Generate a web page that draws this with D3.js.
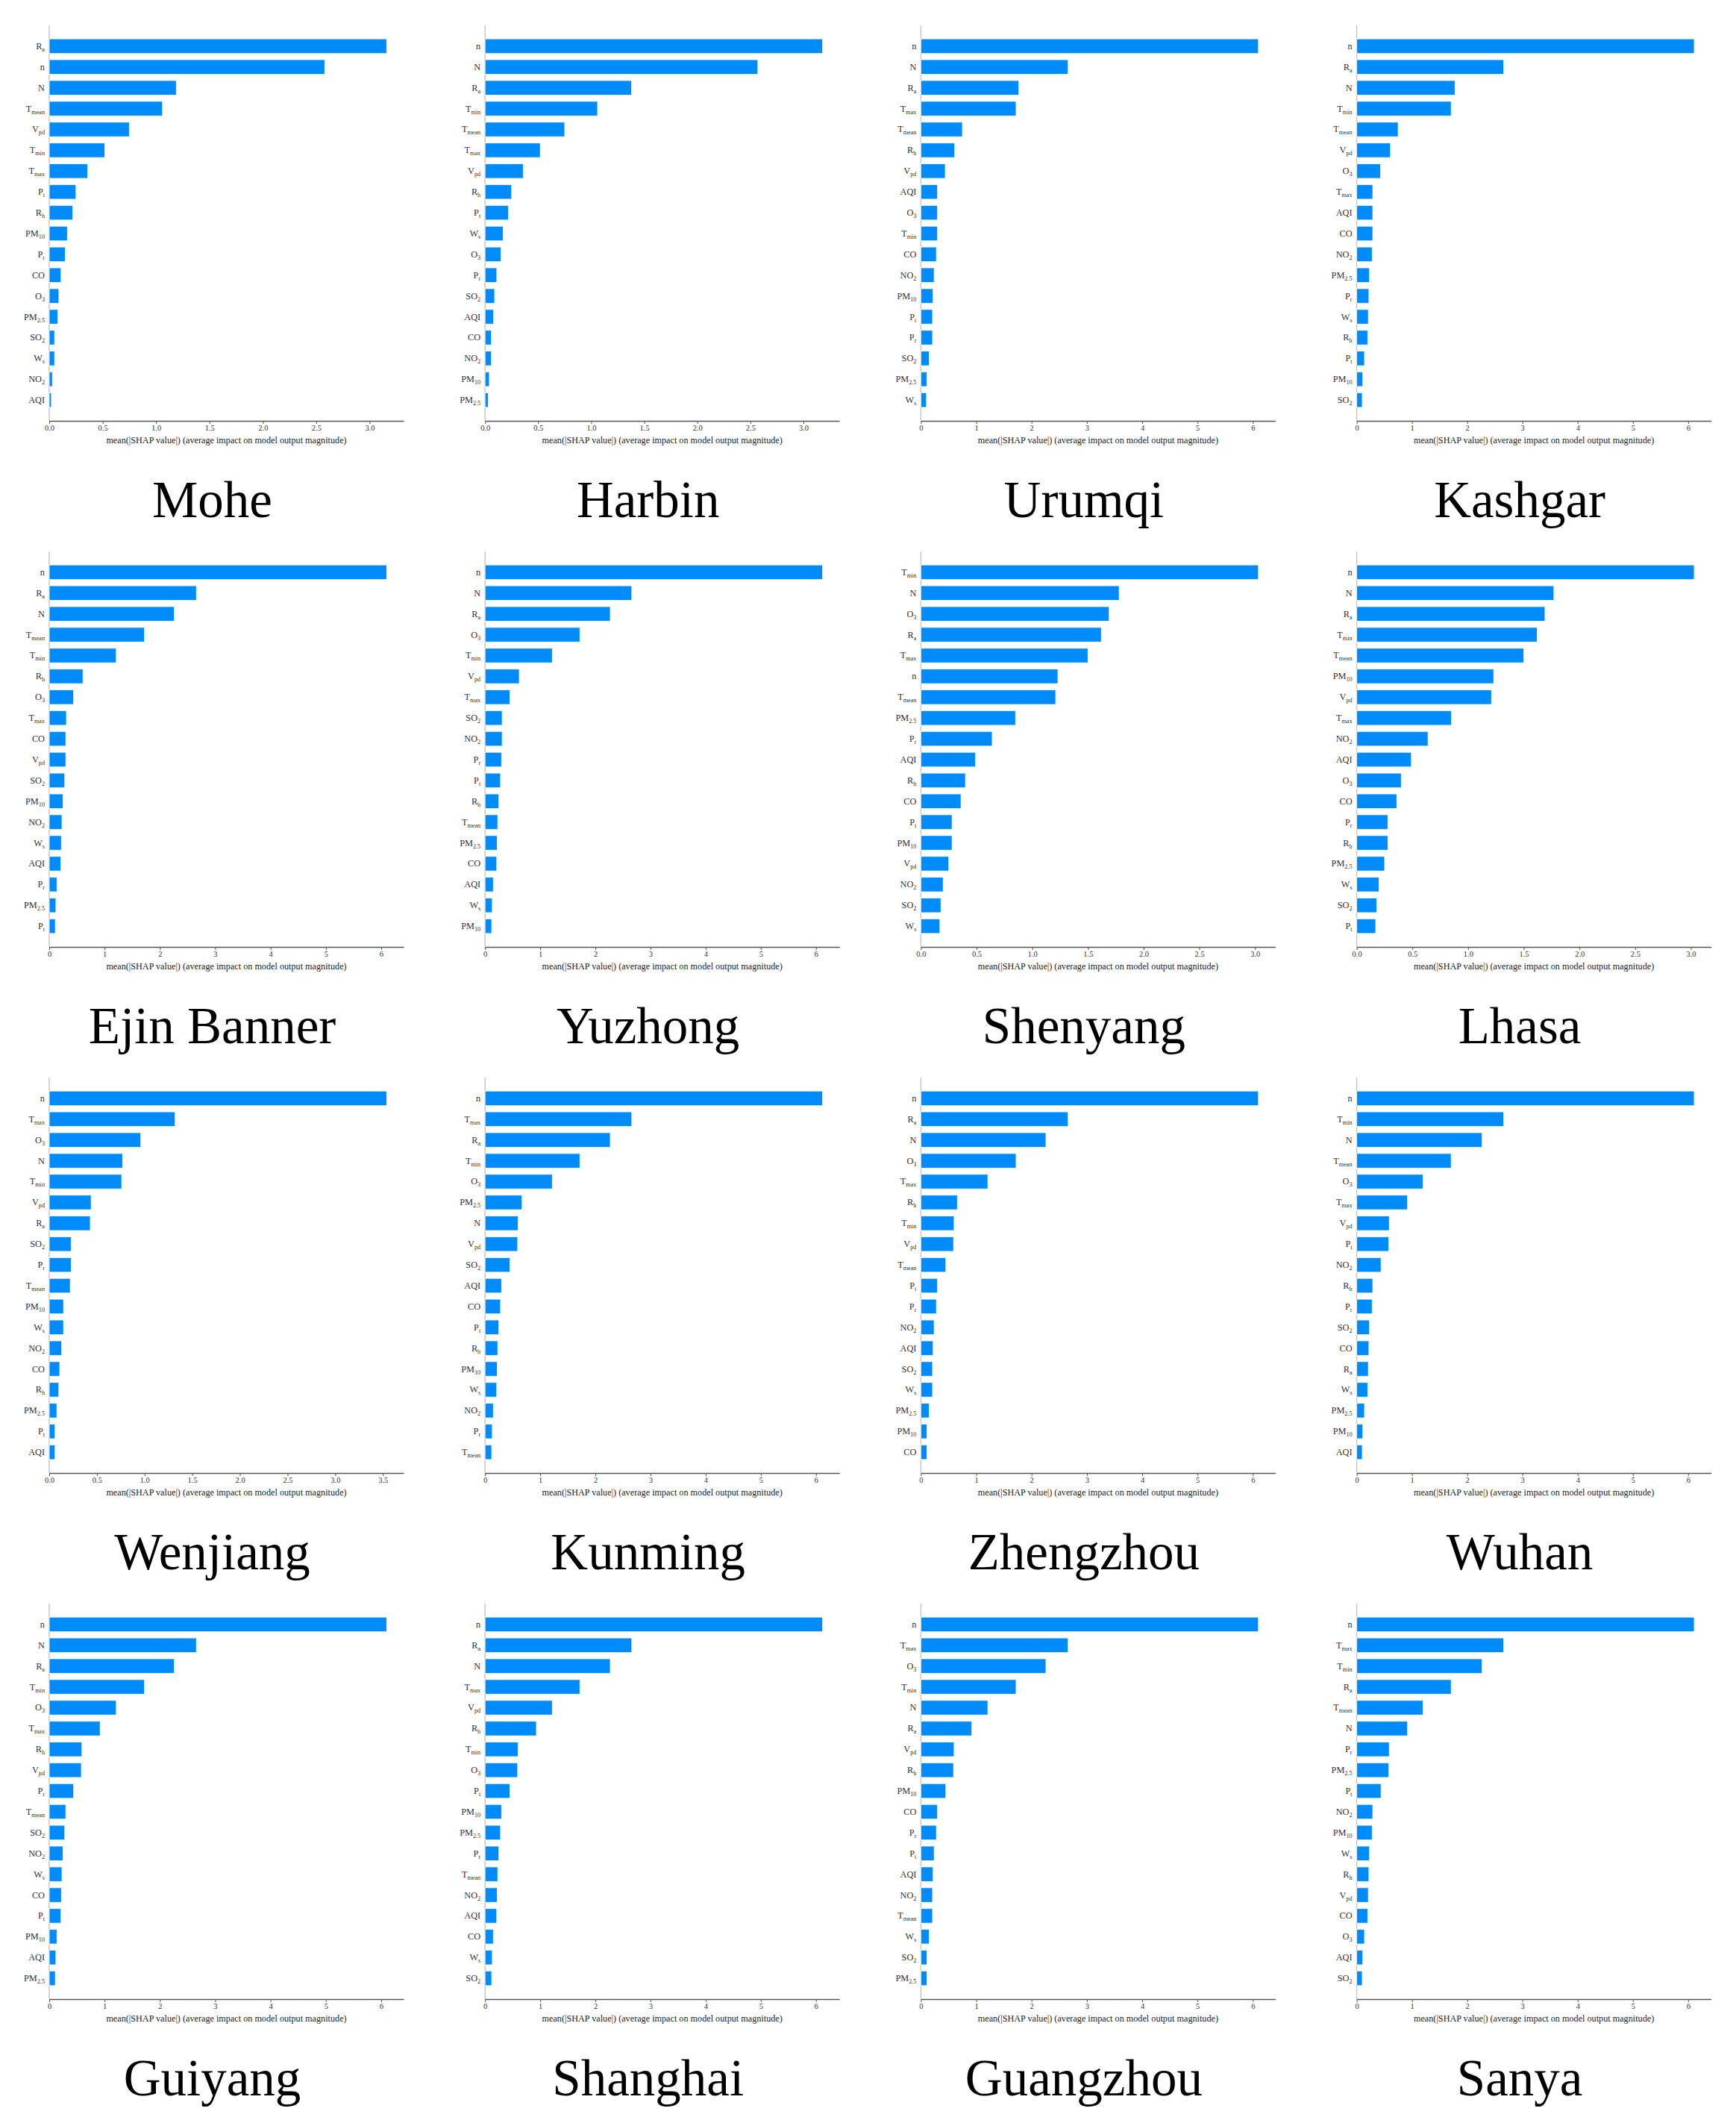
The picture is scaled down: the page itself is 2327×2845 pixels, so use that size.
<!DOCTYPE html>
<html>
<head>
<meta charset="utf-8">
<title>mean(|SHAP value|) by city</title>
<script src="https://d3js.org/d3.v7.min.js"></script>
<style>
  body { margin: 0; background: #fff; }
  text { font-family: "Liberation Serif", "Times New Roman", serif; }
</style>
</head>
<body>
<svg id="chart" width="2327" height="2845"></svg>
<script>
// one pair of arrays per city: feature order (top to bottom) and mean |SHAP|
const moheF = ["Ra","n","N","Tmean","Vpd","Tmin","Tmax","Pt","Rh","PM10","Pr","CO","O3","PM2.5","SO2","Ws","NO2","AQI"];
const moheV = [3.16,2.58,1.19,1.06,0.75,0.52,0.36,0.25,0.22,0.17,0.15,0.11,0.09,0.08,0.05,0.05,0.03,0.02];
const harbinF = ["n","N","Ra","Tmin","Tmean","Tmax","Vpd","Rh","Pt","Ws","O3","Pr","SO2","AQI","CO","NO2","PM10","PM2.5"];
const harbinV = [3.18,2.57,1.38,1.06,0.75,0.52,0.36,0.25,0.22,0.17,0.15,0.11,0.09,0.08,0.06,0.06,0.04,0.03];
const urumqiF = ["n","N","Ra","Tmax","Tmean","Rh","Vpd","AQI","O3","Tmin","CO","NO2","PM10","Pt","Pr","SO2","PM2.5","Ws"];
const urumqiV = [6.10,2.66,1.77,1.72,0.75,0.61,0.44,0.30,0.30,0.30,0.28,0.24,0.22,0.21,0.21,0.15,0.11,0.10];
const kashgarF = ["n","Ra","N","Tmin","Tmean","Vpd","O3","Tmax","AQI","CO","NO2","PM2.5","Pr","Ws","Rh","Pt","PM10","SO2"];
const kashgarV = [6.11,2.66,1.78,1.71,0.75,0.61,0.43,0.29,0.29,0.29,0.28,0.23,0.22,0.21,0.20,0.14,0.11,0.10];

const ejinF = ["n","Ra","N","Tmean","Tmin","Rh","O3","Tmax","CO","Vpd","SO2","PM10","NO2","Ws","AQI","Pr","PM2.5","Pt"];
const ejinV = [6.10,2.66,2.26,1.72,1.21,0.61,0.44,0.31,0.30,0.30,0.28,0.25,0.23,0.22,0.21,0.14,0.12,0.11];
const yuzhongF = ["n","N","Ra","O3","Tmin","Vpd","Tmax","SO2","NO2","Pr","Pt","Rh","Tmean","PM2.5","CO","AQI","Ws","PM10"];
const yuzhongV = [6.12,2.66,2.27,1.72,1.22,0.62,0.45,0.31,0.31,0.30,0.28,0.25,0.23,0.22,0.21,0.15,0.13,0.12];
const shenyangF = ["Tmin","N","O3","Ra","Tmax","n","Tmean","PM2.5","Pr","AQI","Rh","CO","Pt","PM10","Vpd","NO2","SO2","Ws"];
const shenyangV = [3.03,1.78,1.69,1.62,1.50,1.23,1.21,0.85,0.64,0.49,0.40,0.36,0.28,0.28,0.25,0.20,0.18,0.17];
const lhasaF = ["n","N","Ra","Tmin","Tmean","PM10","Vpd","Tmax","NO2","AQI","O3","CO","Pr","Rh","PM2.5","Ws","SO2","Pt"];
const lhasaV = [3.03,1.77,1.69,1.62,1.50,1.23,1.21,0.85,0.64,0.49,0.40,0.36,0.28,0.28,0.25,0.20,0.18,0.17];

const wenjiangF = ["n","Tmax","O3","N","Tmin","Vpd","Ra","SO2","Pr","Tmean","PM10","Ws","NO2","CO","Rh","PM2.5","Pt","AQI"];
const wenjiangV = [3.54,1.32,0.96,0.77,0.76,0.44,0.43,0.23,0.23,0.22,0.15,0.15,0.13,0.11,0.10,0.08,0.06,0.06];
const kunmingF = ["n","Tmax","Ra","Tmin","O3","PM2.5","N","Vpd","SO2","AQI","CO","Pt","Rh","PM10","Ws","NO2","Pr","Tmean"];
const kunmingV = [6.12,2.66,2.27,1.72,1.22,0.67,0.60,0.59,0.45,0.30,0.28,0.25,0.23,0.22,0.21,0.15,0.13,0.12];
const zhengzhouF = ["n","Ra","N","O3","Tmax","Rh","Tmin","Vpd","Tmean","Pt","Pr","NO2","AQI","SO2","Ws","PM2.5","PM10","CO"];
const zhengzhouV = [6.10,2.66,2.26,1.72,1.21,0.66,0.60,0.59,0.45,0.30,0.28,0.24,0.22,0.21,0.21,0.15,0.11,0.11];
const wuhanF = ["n","Tmin","N","Tmean","O3","Tmax","Vpd","Pt","NO2","Rh","Pr","SO2","CO","Ra","Ws","PM2.5","PM10","AQI"];
const wuhanV = [6.11,2.66,2.27,1.71,1.20,0.92,0.59,0.58,0.44,0.29,0.28,0.23,0.22,0.21,0.20,0.14,0.11,0.10];

const guiyangF = ["n","N","Ra","Tmin","O3","Tmax","Rh","Vpd","Pr","Tmean","SO2","NO2","Ws","CO","Pt","PM10","AQI","PM2.5"];
const guiyangV = [6.10,2.66,2.26,1.72,1.21,0.92,0.59,0.58,0.44,0.30,0.28,0.25,0.23,0.22,0.21,0.14,0.12,0.11];
const shanghaiF = ["n","Ra","N","Tmax","Vpd","Rh","Tmin","O3","Pt","PM10","PM2.5","Pr","Tmean","NO2","AQI","CO","Ws","SO2"];
const shanghaiV = [6.12,2.66,2.27,1.72,1.22,0.93,0.60,0.59,0.45,0.30,0.28,0.25,0.23,0.22,0.21,0.15,0.13,0.12];
const guangzhouF = ["n","Tmax","O3","Tmin","N","Ra","Vpd","Rh","PM10","CO","Pr","Pt","AQI","NO2","Tmean","Ws","SO2","PM2.5"];
const guangzhouV = [6.10,2.66,2.26,1.72,1.21,0.92,0.60,0.59,0.45,0.30,0.28,0.24,0.22,0.21,0.21,0.15,0.11,0.11];
const sanyaF = ["n","Tmax","Tmin","Ra","Tmean","N","Pr","PM2.5","Pt","NO2","PM10","Ws","Rh","Vpd","CO","O3","AQI","SO2"];
const sanyaV = [6.11,2.66,2.27,1.71,1.20,0.92,0.59,0.58,0.44,0.29,0.28,0.23,0.22,0.21,0.20,0.14,0.11,0.10];

const cityNames = ["Mohe","Harbin","Urumqi","Kashgar","Ejin Banner","Yuzhong","Shenyang","Lhasa",
                   "Wenjiang","Kunming","Zhengzhou","Wuhan","Guiyang","Shanghai","Guangzhou","Sanya"];
const cityFeatures = [moheF,harbinF,urumqiF,kashgarF,ejinF,yuzhongF,shenyangF,lhasaF,
                      wenjiangF,kunmingF,zhengzhouF,wuhanF,guiyangF,shanghaiF,guangzhouF,sanyaF];
const cityValues = [moheV,harbinV,urumqiV,kashgarV,ejinV,yuzhongV,shenyangV,lhasaV,
                    wenjiangV,kunmingV,zhengzhouV,wuhanV,guiyangV,shanghaiV,guangzhouV,sanyaV];

// label -> [main, subscript]
const labelParts = {
  "Ra":["R","a"], "Rh":["R","h"], "n":["n",""], "N":["N",""],
  "Tmean":["T","mean"], "Tmin":["T","min"], "Tmax":["T","max"], "Vpd":["V","pd"],
  "Pt":["P","t"], "Pr":["P","r"], "Ws":["W","s"], "PM10":["PM","10"], "PM2.5":["PM","2.5"],
  "CO":["CO",""], "O3":["O","3"], "SO2":["SO","2"], "NO2":["NO","2"], "AQI":["AQI",""]
};

const xTitle = "mean(|SHAP value|) (average impact on model output magnitude)";
const barColor = "#008bfb";

const svg = d3.select("#chart");
svg.append("rect").attr("width", 2327).attr("height", 2845).attr("fill", "#fff");

const colX = 66, colStep = 584.2, rowStep = 705;
const axW = 475, axTop = 34, axBottom = 564;

cityNames.forEach(function(city, i) {
  var c = i % 4, r = Math.floor(i / 4);
  var feats = cityFeatures[i], vals = cityValues[i];
  var g = svg.append("g").attr("transform", "translate(" + (colX + c * colStep) + "," + (r * rowStep) + ")");

  var x = d3.scaleLinear().domain([0, d3.max(vals) * 1.05]).range([0, axW]);
  var y = d3.scaleLinear().domain([-1, feats.length]).range([axTop, axBottom]);
  var bh = 0.7 * (y(1) - y(0));

  // light vertical line at zero
  g.append("line").attr("x1", 0).attr("x2", 0).attr("y1", axTop).attr("y2", axBottom)
    .attr("stroke", "#c8c8c8").attr("stroke-width", 1.5);

  g.selectAll("rect.bar").data(vals).enter().append("rect")
    .attr("class", "bar")
    .attr("x", x(0))
    .attr("y", function(d, k) { return y(k) - bh / 2; })
    .attr("width", function(d) { return x(d) - x(0); })
    .attr("height", bh)
    .attr("fill", barColor)
    .attr("stroke", "rgba(255,255,255,0.8)")
    .attr("stroke-width", 1);

  // feature labels with subscripts
  var lab = g.selectAll("text.lab").data(feats).enter().append("text")
    .attr("class", "lab")
    .attr("x", -6)
    .attr("y", function(d, k) { return y(k) + 4; })
    .attr("text-anchor", "end")
    .attr("font-size", 12.3)
    .attr("fill", "#333");
  lab.append("tspan").text(function(d) { return labelParts[d][0]; });
  lab.filter(function(d) { return labelParts[d][1] !== ""; })
    .append("tspan").attr("font-size", 8.2).attr("dy", 3)
    .text(function(d) { return labelParts[d][1]; });

  // x axis
  var step = d3.tickStep(0, x.domain()[1], 7);
  var fmt = step < 1 ? d3.format(".1f") : d3.format("d");
  var ax = g.append("g").attr("transform", "translate(0," + axBottom + ")")
    .call(d3.axisBottom(x).ticks(7).tickFormat(fmt).tickSize(4).tickSizeOuter(0));
  ax.select(".domain").attr("stroke", "#555").attr("stroke-width", 1.3);
  ax.selectAll(".tick line").attr("stroke", "#555");
  ax.selectAll(".tick text").attr("font-family", "Liberation Serif, serif")
    .attr("font-size", 10.5).attr("fill", "#333").attr("dy", "0.6em");

  g.append("text")
    .attr("x", axW / 2).attr("y", axBottom + 30)
    .attr("text-anchor", "middle")
    .attr("font-size", 12.2).attr("fill", "#222")
    .text(xTitle);

  // city name
  g.append("text")
    .attr("x", 218.5).attr("y", 693)
    .attr("text-anchor", "middle")
    .attr("font-size", 69).attr("fill", "#000")
    .text(city);
});
</script>
</body>
</html>
